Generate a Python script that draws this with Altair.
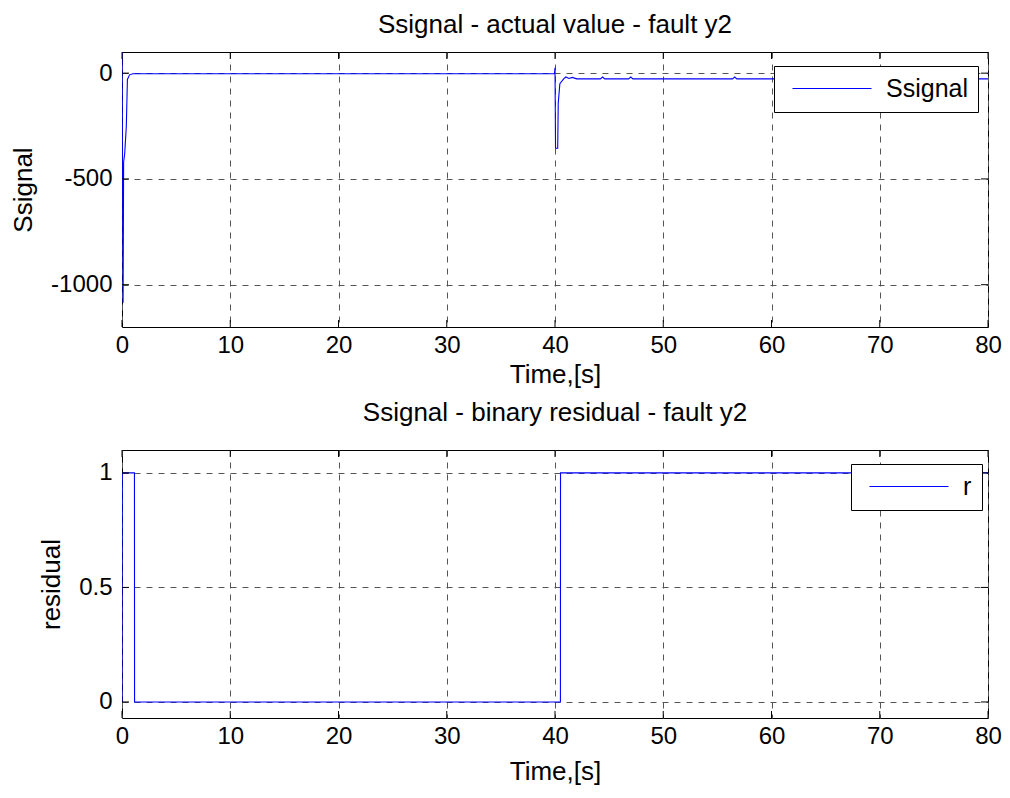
import altair as alt
import pandas as pd

# ---- data ----
sig_t = [0.0, 0.1, 0.15, 0.25, 0.4, 0.5, 0.7, 1.0, 10.0, 20.0, 30.0, 39.95,
         40.0, 40.05, 40.25, 40.3, 40.45, 40.8, 41.0, 41.3, 41.6, 42.0, 44.2, 44.4,
         44.6, 46.8, 47.0, 47.2, 56.4, 56.6, 56.8, 60.0, 70.0, 80.0]
sig_v = [100, -1085, -420, -380, -250, -30, -8, -3, -3, -3, -3, -3,
         25, -355, -355, -140, -50, -27, -18, -25, -20, -27, -27, -18,
         -27, -27, -18, -27, -27, -18, -27, -27, -27, -27]

res_t = [0.0, 0.02, 1.15, 1.16, 40.5, 40.51, 80.0]
res_v = [0, 1, 1, 0, 0, 1, 1]

x_ticks = [0, 10, 20, 30, 40, 50, 60, 70, 80]
top_y_ticks = [0, -500, -1000]
bot_y_ticks = [0, 0.5, 1]

FONT = "Liberation Sans"
W = 866
H1 = 275
H2 = 268
BLUE = "#0000ff"
TICK_FS = 24
TITLE_FS = 26


def panel(t, v, name, ydom, yticks, ytitle, title, H, legend_x, legend_y,
          ytitle_pad, title_offset, xtitle_pad):
    df = pd.DataFrame({"t": t, "v": v, "series": [name] * len(t)})
    xs = alt.Scale(domain=[0, 80], nice=False, zero=False)
    ys = alt.Scale(domain=ydom, nice=False, zero=False)
    common = dict(grid=True, gridDash=[6, 6], gridColor="#555555", gridWidth=1,
                  ticks=False, domain=False, labelFontSize=TICK_FS,
                  titleFontSize=TITLE_FS, labelFont=FONT, titleFont=FONT,
                  labelColor="black", titleColor="black", titleFontWeight="normal",
                  labelFlush=False, labelExpr="toString(datum.value)")
    xax = alt.Axis(values=x_ticks, title="Time,[s]", labelPadding=6,
                   titlePadding=xtitle_pad, **common)
    yax = alt.Axis(values=yticks, title=ytitle, labelPadding=10,
                   titlePadding=ytitle_pad, **common)
    line = alt.Chart(df).mark_line(strokeWidth=1.1, clip=True).encode(
        x=alt.X("t:Q", scale=xs, axis=xax),
        y=alt.Y("v:Q", scale=ys, axis=yax),
        color=alt.Color("series:N", scale=alt.Scale(range=[BLUE]),
                        legend=alt.Legend(title=None, orient="none",
                                          legendX=legend_x, legendY=legend_y,
                                          strokeColor="black", fillColor="white",
                                          padding=10, symbolType="M-0.4,0H7.5",
                                          symbolSize=400, symbolStrokeWidth=1.1,
                                          labelFontSize=25, labelFont=FONT,
                                          labelColor="black", labelOffset=77)),
    )
    xt = pd.DataFrame({"x": x_ticks})
    yt = pd.DataFrame({"y": yticks})
    tick_style = dict(color="black", strokeWidth=1)
    bx = alt.Chart(xt).mark_rule(**tick_style).encode(
        x=alt.X("x:Q", scale=xs), y=alt.value(H), y2=alt.value(H - 7))
    tx = alt.Chart(xt).mark_rule(**tick_style).encode(
        x=alt.X("x:Q", scale=xs), y=alt.value(0), y2=alt.value(7))
    ly = alt.Chart(yt).mark_rule(**tick_style).encode(
        y=alt.Y("y:Q", scale=ys), x=alt.value(0), x2=alt.value(7))
    ry = alt.Chart(yt).mark_rule(**tick_style).encode(
        y=alt.Y("y:Q", scale=ys), x=alt.value(W), x2=alt.value(W - 7))
    return alt.layer(line, bx, tx, ly, ry).properties(
        width=W, height=H,
        title=alt.TitleParams(title, font=FONT, fontSize=TITLE_FS, fontWeight="normal",
                              color="black", offset=title_offset),
    )


top = panel(sig_t, sig_v, "Ssignal", [-1200, 100], top_y_ticks, "Ssignal",
            "Ssignal - actual value - fault y2", H1, W - 12 - 202, 14, 14, 14, 4)
bot = panel(res_t, res_v, "r", [-0.07, 1.1], bot_y_ticks, "residual",
            "Ssignal - binary residual - fault y2", H2, W - 12 - 125, 14, 14, 24, 10)

chart = alt.vconcat(top, bot, spacing=11).resolve_scale(
    color="independent").resolve_legend(color="independent").configure(
    background="white",
    padding={"left": 2, "top": 3, "right": 0, "bottom": 0}).configure_view(
    stroke="black", strokeWidth=1)

chart.save("out.html", embed_options={"renderer": "svg", "actions": False})
